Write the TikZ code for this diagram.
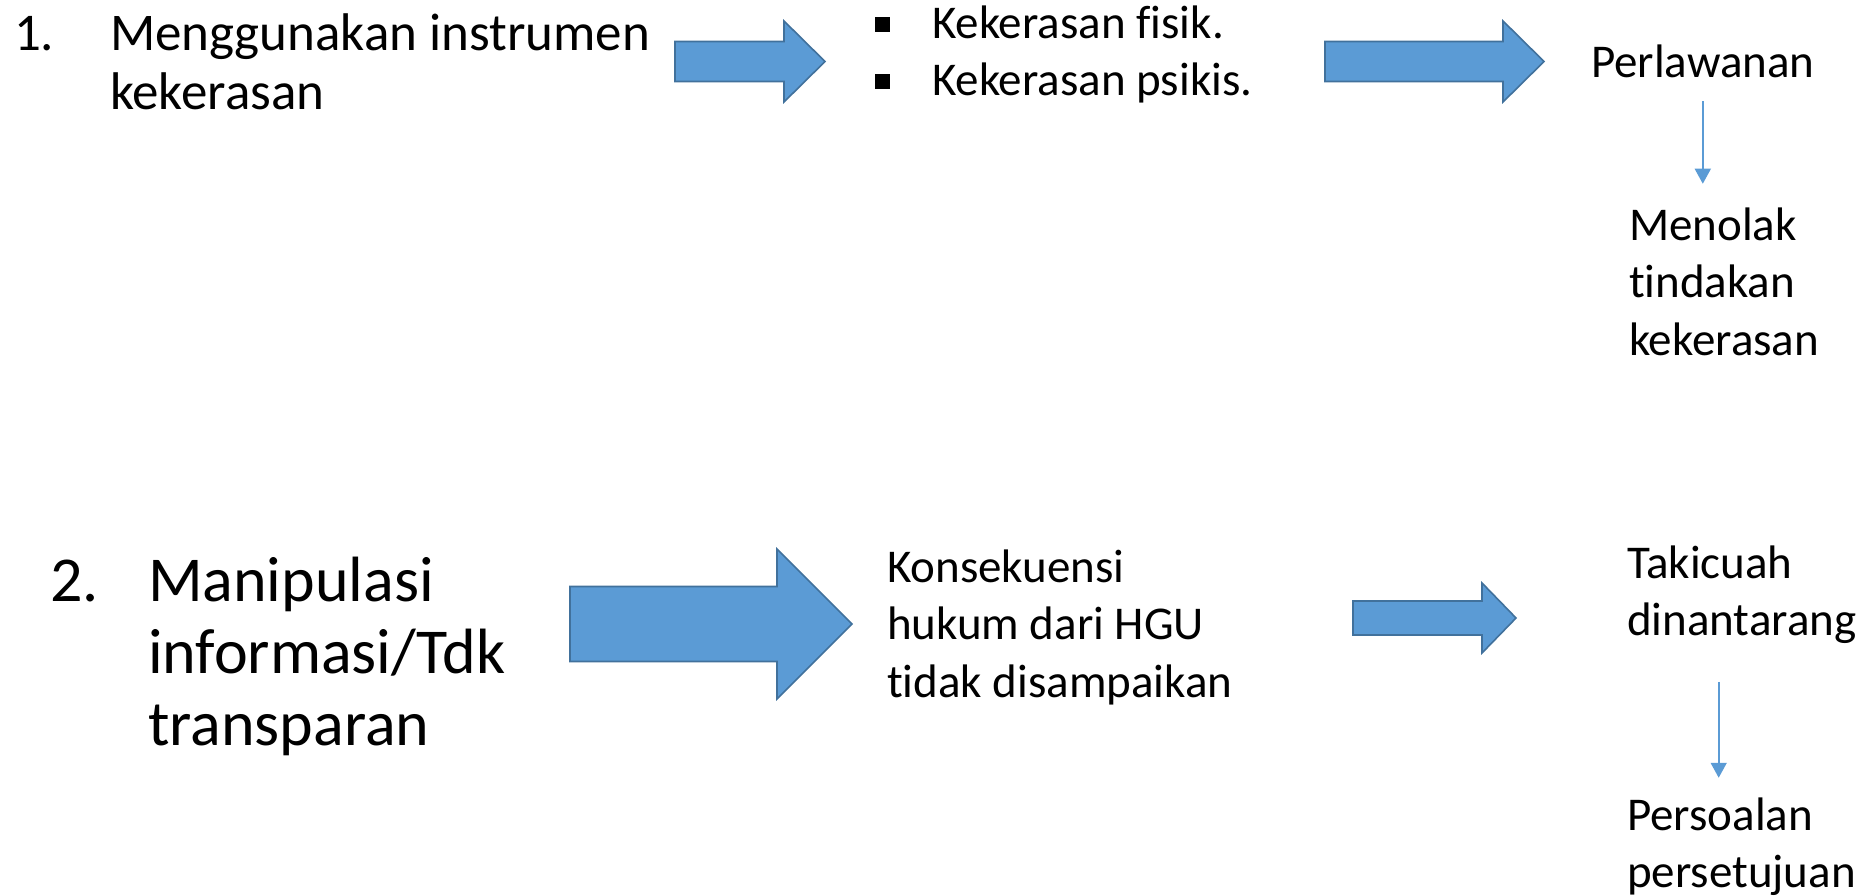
\documentclass[tikz,border=0pt]{standalone}
\usepackage{fontspec}
\setmainfont{Carlito}[Ligatures={CommonOff}]
\usetikzlibrary{arrows.meta}
\definecolor{afill}{HTML}{5B9BD5}
\definecolor{aline}{HTML}{41719C}
\tikzset{
  txt/.style={anchor=base west, inner sep=0pt, outer sep=0pt},
  fbig/.style={font=\fontsize{64}{72}\selectfont},
  fmid/.style={font=\fontsize{53}{59}\selectfont},
  fnorm/.style={font=\fontsize{47}{57.5}\selectfont},
  barrow/.style={fill=afill, draw=aline, line width=1.6pt, line join=miter},
  sarrow/.style={draw=afill, line width=1.6pt, -{Triangle[length=15pt,width=16pt]}},
  bsq/.style={fill=black, draw=none, minimum size=15pt, inner sep=0pt},
}
\newcommand\blockarrow[6]{%
  \draw[barrow] (#1,#4-#5) -- (#2,#4-#5) -- (#2,#4-#6) -- (#3,#4) -- (#2,#4+#6) -- (#2,#4+#5) -- (#1,#4+#5) -- cycle;}
\begin{document}
\begin{tikzpicture}[x=1pt,y=-1pt]
\useasboundingbox (0,0) rectangle (1867,896);
% row 1
\node[txt,fmid] (n1) at (14,51) {1.};
\node[txt,fmid] (t1) at (110,51) {\begin{tabular}[t]{@{}l@{}}Menggunakan instrumen\\kekerasan\end{tabular}};
\blockarrow{675}{784}{825}{61.5}{20}{40.5}
\node[bsq] (b1) at (882,25) {};
\node[bsq] (b2) at (882,82) {};
\node[txt,fnorm] (k1) at (932,39) {Kekerasan fisik.};
\node[txt,fnorm] (k2) at (932,96) {Kekerasan psikis.};
\blockarrow{1325}{1503}{1544}{61.5}{20}{40.5}
\node[txt,fnorm] (perl) at (1591,78) {\begin{tabular}[t]{@{}l@{}}Perlawanan\end{tabular}};
\node[txt,fnorm] (men) at (1629,240) {\begin{tabular}[t]{@{}l@{}}Menolak\\tindakan\\kekerasan\end{tabular}};
\draw[sarrow, shorten <=6pt, shorten >=16pt] (perl.south) -- (perl.south |- men.north);
% row 2
\node[txt,fbig] (n2) at (50,601) {2.};
\node[txt,fbig] (t2) at (148,601) {\begin{tabular}[t]{@{}l@{}}Manipulasi\\informasi/Tdk\\transparan\end{tabular}};
\blockarrow{570}{777}{852}{624}{37.5}{75}
\node[txt,fnorm] (kon) at (887,582) {\begin{tabular}[t]{@{}l@{}}Konsekuensi\\hukum dari HGU\\tidak disampaikan\end{tabular}};
\blockarrow{1353}{1482}{1516}{618}{17}{35}
\node[txt,fnorm] (taki) at (1627,578) {\begin{tabular}[t]{@{}l@{}}Takicuah\\dinantarang\end{tabular}};
\node[txt,fnorm] (pers) at (1627,830) {\begin{tabular}[t]{@{}l@{}}Persoalan\\persetujuan\end{tabular}};
\draw[sarrow, shorten <=29pt, shorten >=12pt] ([xshift=-23pt]taki.south) -- ([xshift=-23pt]taki.south |- pers.north);
\end{tikzpicture}
\end{document}
